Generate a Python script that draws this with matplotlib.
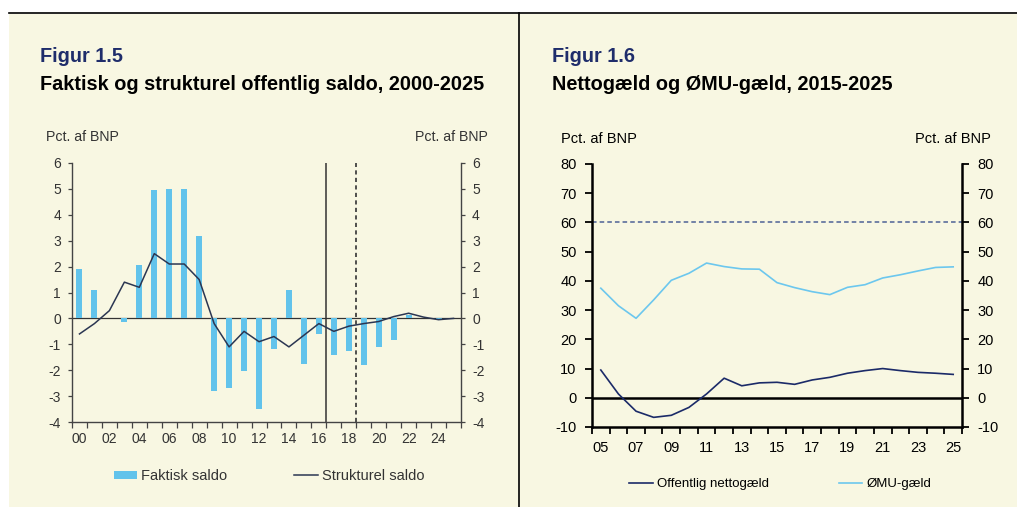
import matplotlib.pyplot as plt
from matplotlib.patches import Rectangle
from matplotlib.lines import Line2D

# Figur 1.5 data (2000-2025)
aar_1 = list(range(2000, 2026))
faktisk_saldo = [1.9, 1.1, 0.0, -0.15, 2.05, 4.95, 5.0, 5.0, 3.2, -2.8,
                 -2.7, -2.05, -3.5, -1.2, 1.1, -1.75, -0.6, -1.4, -1.25, -1.8,
                 -1.1, -0.85, 0.15, 0.0, -0.05, 0.0]
strukturel_saldo = [-0.6, -0.2, 0.3, 1.4, 1.2, 2.5, 2.1, 2.1, 1.5, -0.2,
                    -1.1, -0.5, -0.9, -0.7, -1.1, -0.65, -0.2, -0.5, -0.3, -0.2,
                    -0.12, 0.07, 0.2, 0.05, -0.05, 0.0]
labels_1 = ["00", "02", "04", "06", "08", "10", "12", "14", "16", "18", "20", "22", "24"]

# Figur 1.6 data (2005-2025)
aar_2 = list(range(2005, 2026))
nettogaeld = [9.5, 1.3, -4.6, -6.7, -6.0, -3.3, 1.3, 6.7, 4.1, 5.1, 5.3,
              4.6, 6.1, 7.0, 8.4, 9.3, 10.0, 9.3, 8.7, 8.4, 8.0]
omu_gaeld = [37.5, 31.5, 27.2, 33.5, 40.2, 42.6, 46.1, 44.9, 44.1, 44.0, 39.4,
             37.7, 36.3, 35.3, 37.8, 38.7, 41.0, 42.1, 43.4, 44.6, 44.8]
labels_2 = ["05", "07", "09", "11", "13", "15", "17", "19", "21", "23", "25"]

W, H = 1017, 507
CREAM = "#F8F7E2"
NAVY = "#1F2D6B"
plt.rcParams["font.family"] = ["Liberation Sans", "DejaVu Sans"]
plt.rcParams["axes.unicode_minus"] = False

fig = plt.figure(figsize=(W / 100, H / 100), dpi=100, facecolor="white")


def fx(px):
    return px / W


def fy(py):
    return 1 - py / H


# baggrund og rammer
fig.patches.append(Rectangle((fx(9), 0), 1 - fx(9), fy(14), transform=fig.transFigure,
                             facecolor=CREAM, edgecolor="none", zorder=-5))
fig.add_artist(Line2D([fx(9), 1], [fy(13), fy(13)], transform=fig.transFigure, color="black", lw=1.2))
fig.add_artist(Line2D([fx(519), fx(519)], [fy(13), 0], transform=fig.transFigure, color="black", lw=1.2))

# titler
fig.text(fx(40), fy(57), "Figur 1.5", color=NAVY, fontsize=14.3, fontweight="bold", va="center")
fig.text(fx(40), fy(85), "Faktisk og strukturel offentlig saldo, 2000-2025", fontsize=14.3,
         fontweight="bold", va="center")
fig.text(fx(552), fy(57), "Figur 1.6", color=NAVY, fontsize=14.3, fontweight="bold", va="center")
fig.text(fx(552), fy(85), "Nettogæld og ØMU-gæld, 2015-2025", fontsize=14.3,
         fontweight="bold", va="center")

# ---------- Figur 1.5 ----------
ax1 = fig.add_axes([fx(72), fy(422), fx(461 - 72), (422 - 163) / H])
ax1.set_facecolor("none")
x1 = list(range(len(aar_1)))
bars = ax1.bar(x1, faktisk_saldo, width=0.4, color="#62C3EB", zorder=2)
line, = ax1.plot(x1, strukturel_saldo, color="#2B3652", lw=1.1, zorder=3)
ax1.axhline(0, color="#333333", lw=0.9, zorder=1)
ax1.axvline(16.5, color="#333333", lw=1.1, zorder=1)
ax1.axvline(18.5, color="#333333", lw=1.2, ls=(0, (2.5, 2)), zorder=1)
ax1.set_xlim(-0.5, len(aar_1) - 0.5)
ax1.set_ylim(-4, 6)
ax1.set_yticks(range(-4, 7))
ax1.set_xticks([i - 0.5 for i in range(len(aar_1) + 1)])
ax1.set_xticklabels([])
ax1.set_xticks(list(range(0, len(aar_1), 2)), minor=True)
ax1.set_xticklabels(labels_1, minor=True)
ax1.tick_params(axis="x", which="major", length=4, width=0.9, color="#444444", direction="out")
ax1.tick_params(axis="x", which="minor", length=0, pad=7, labelsize=10, labelcolor="#333333")
ax1.tick_params(axis="y", left=True, right=True, labelleft=True, labelright=True, length=3,
                width=0.9, color="#444444", labelsize=10, labelcolor="#333333", pad=5)
for s in ["left", "right", "bottom"]:
    ax1.spines[s].set_color("#444444")
    ax1.spines[s].set_linewidth(1.0)
ax1.spines["top"].set_visible(False)
fig.text(fx(46), fy(137), "Pct. af BNP", fontsize=10.2, color="#333333", va="center")
fig.text(fx(488), fy(137), "Pct. af BNP", fontsize=10.2, color="#333333", va="center", ha="right")
fig.legend([bars, line], ["Faktisk saldo", "Strukturel saldo"], loc="center left",
           bbox_to_anchor=(fx(114), fy(476)), ncol=2, frameon=False, fontsize=10.5,
           handlelength=1.6, handleheight=0.5, handletextpad=0.27, columnspacing=4.6,
           borderpad=0, borderaxespad=0, labelcolor="#333333")

# ---------- Figur 1.6 ----------
ax2 = fig.add_axes([fx(592), fy(427), fx(962 - 592), (427 - 164) / H])
ax2.set_facecolor("none")
x2 = list(range(len(aar_2)))
l_netto, = ax2.plot(x2, nettogaeld, color="#1B2A68", lw=1.2, zorder=3)
l_omu, = ax2.plot(x2, omu_gaeld, color="#6CC7EE", lw=1.2, zorder=3)
ax2.axhline(60, color="#4E6296", lw=1.1, ls=(0, (3, 2)), zorder=1)
ax2.axhline(0, color="black", lw=1.8, zorder=2)
ax2.set_xlim(-0.5, len(aar_2) - 0.5)
ax2.set_ylim(-10, 80)
ax2.set_yticks(range(-10, 81, 10))
ax2.set_xticks([i - 0.5 for i in range(len(aar_2) + 1)])
ax2.set_xticklabels([])
ax2.set_xticks(list(range(0, len(aar_2), 2)), minor=True)
ax2.set_xticklabels(labels_2, minor=True)
ax2.tick_params(axis="x", which="major", length=5, width=1.3, color="black", direction="out")
ax2.tick_params(axis="x", which="minor", length=0, pad=10, labelsize=10.5)
ax2.tick_params(axis="y", left=True, right=True, labelleft=True, labelright=True, length=5,
                width=1.3, labelsize=10.5, pad=6)
for s in ["left", "right", "bottom"]:
    ax2.spines[s].set_color("black")
    ax2.spines[s].set_linewidth(1.8)
ax2.spines["top"].set_visible(False)
fig.text(fx(561), fy(139), "Pct. af BNP", fontsize=10.5, va="center")
fig.text(fx(991), fy(139), "Pct. af BNP", fontsize=10.5, va="center", ha="right")
fig.legend([l_netto, l_omu], ["Offentlig nettogæld", "ØMU-gæld"], loc="center left",
           bbox_to_anchor=(fx(629), fy(484)), ncol=2, frameon=False, fontsize=9.5,
           handlelength=1.8, handletextpad=0.3, columnspacing=5.3,
           borderpad=0, borderaxespad=0)

fig.savefig("out.png", dpi=100, facecolor="white")
